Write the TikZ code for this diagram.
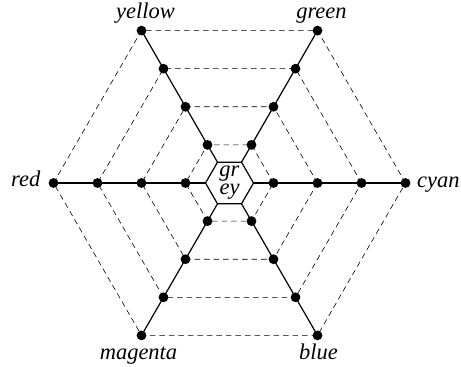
\documentclass[tikz,border=0pt]{standalone}
\usepackage{fontspec}
\setmainfont{Liberation Serif}
\begin{document}
\begin{tikzpicture}[x=1pt,y=1pt,
  dot/.style={circle,fill=black,inner sep=0pt,minimum size=9.8pt},
  ring/.style={line width=0.6pt,dash pattern=on 5.5pt off 4pt},
  spoke/.style={line width=1.2pt},
  lbl/.style={inner sep=0pt,font=\fontsize{22.5}{18}\selectfont\itshape}]
\useasboundingbox (0,0) rectangle (461,367);
\coordinate (O) at (229.5,184);
\foreach \a [count=\i] in {0,60,120,180,240,300} {
  \coordinate (h\i) at ([shift={(\a:24)}]O);
  \foreach \k in {1,...,4} {
    \coordinate (c\i-\k) at ([shift={(\a:\k*44)}]O);
  }
}
% dashed rings
\foreach \k in {1,...,4} {
  \draw[ring] (c1-\k) -- (c2-\k) -- (c3-\k) -- (c4-\k) -- (c5-\k) -- (c6-\k) -- cycle;
}
% inner hexagon
\draw[spoke] (h1) -- (h2) -- (h3) -- (h4) -- (h5) -- (h6) -- cycle;
% spokes
\foreach \i in {1,...,6} {
  \draw[spoke] (h\i) -- (c\i-1) -- (c\i-2) -- (c\i-3) -- (c\i-4);
}
% dots
\foreach \i in {1,...,6} {
  \foreach \k in {1,...,4} {
    \node[dot] (d\i-\k) at (c\i-\k) {};
  }
}
% center text
\node[lbl,align=center] (grey) at (O) {gr\\ey};
% labels
\node[lbl,anchor=base west] (cyan) at ([xshift=11.5pt,yshift=-5pt]d1-4.center) {cyan};
\node[lbl,anchor=base] (green) at ([xshift=4pt,yshift=12pt]d2-4.center) {green};
\node[lbl,anchor=base] (yellow) at ([xshift=4pt,yshift=12pt]d3-4.center) {yellow};
\node[lbl,anchor=base east] (red) at ([xshift=-13pt,yshift=-4pt]d4-4.center) {red};
\node[lbl,anchor=base] (magenta) at ([xshift=-3pt,yshift=-24pt]d5-4.center) {magenta};
\node[lbl,anchor=base] (blue) at ([xshift=1pt,yshift=-24pt]d6-4.center) {blue};
\end{tikzpicture}
\end{document}
